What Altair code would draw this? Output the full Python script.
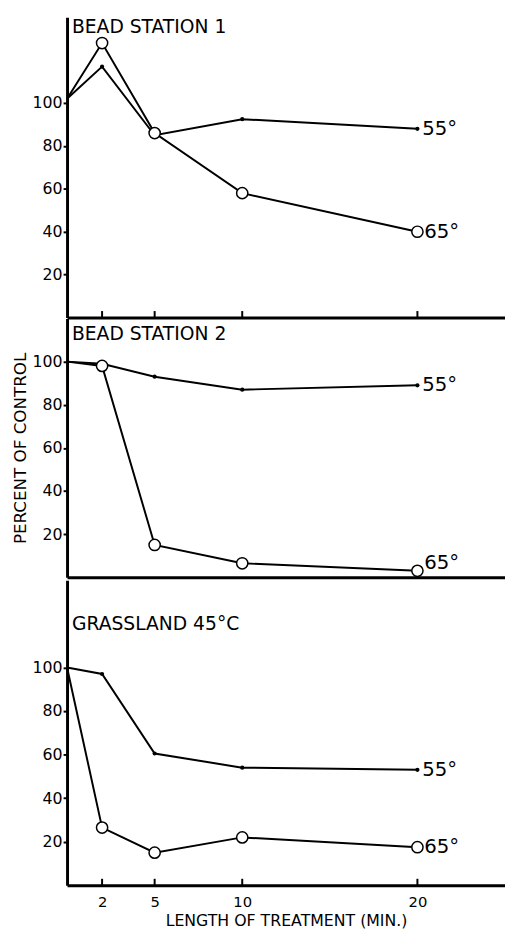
import altair as alt
import pandas as pd

# ---- data ----
times = [0, 2, 5, 10, 20]
bs1_55 = [102, 117, 85, 92.5, 88]
bs1_65 = [102, 128, 86, 58, 40]
bs2_55 = [100, 99, 93, 87, 89]
bs2_65 = [100, 98, 15, 6.5, 3]
gr_55 = [100, 97, 60.5, 54, 53]
gr_65 = [100, 26.5, 15, 22, 17.5]
panel_titles = ["BEAD STATION 1", "BEAD STATION 2", "GRASSLAND 45°C"]
series_labels = ["55°", "65°"]
x_ticks = [2, 5, 10, 20]
y_ticks = [20, 40, 60, 80, 100]

FONT = "DejaVu Sans"
W = 445
XDOM = [0, 25]


def make_df(a, b):
    rows = []
    for t, v in zip(times, a):
        rows.append({"t": t, "v": v, "s": series_labels[0]})
    for t, v in zip(times, b):
        rows.append({"t": t, "v": v, "s": series_labels[1]})
    return pd.DataFrame(rows)


def panel(a, b, title, height, ydom, title_y, ytitle=None, bottom=False,
          inner_ticks=False, label_dy=(0, 0)):
    df = make_df(a, b)
    xscale = alt.Scale(domain=XDOM, nice=False, zero=False)
    yscale = alt.Scale(domain=ydom, nice=False, zero=False)
    if bottom:
        xaxis = alt.Axis(values=x_ticks, ticks=False, labelPadding=10,
                         labelFontSize=15, labelFont=FONT, labelColor="black",
                         domainWidth=3, domainColor="black", grid=False,
                         title="LENGTH OF TREATMENT (MIN.)", titleFont=FONT,
                         titleFontSize=16, titleFontWeight="normal",
                         titlePadding=3, titleColor="black")
    else:
        xaxis = alt.Axis(labels=False, ticks=False, title=None, grid=False,
                         domainWidth=3, domainColor="black")
    yaxis = alt.Axis(values=y_ticks, tickSize=4, tickWidth=2, tickColor="black",
                     labelFontSize=16, labelFont=FONT, labelColor="black",
                     labelPadding=1, domainWidth=3, domainColor="black",
                     grid=False, minExtent=36, maxExtent=36,
                     title=ytitle if ytitle else None,
                     titleFont=FONT, titleFontSize=17, titleFontWeight="normal",
                     titleColor="black", titlePadding=2)
    x = alt.X("t:Q", scale=xscale, axis=xaxis)
    y = alt.Y("v:Q", scale=yscale, axis=yaxis)
    base = alt.Chart(df)
    lines = base.mark_line(color="black", strokeWidth=2).encode(
        x=x, y=y, detail="s:N")
    dots = base.transform_filter(alt.datum.s == series_labels[0]).transform_filter(
        alt.datum.t > 0).mark_point(
        shape="circle", filled=True, color="black", size=18, opacity=1).encode(
        x="t:Q", y="v:Q")
    rings = base.transform_filter(alt.datum.s == series_labels[1]).transform_filter(
        alt.datum.t > 0).mark_point(
        shape="circle", filled=True, fill="white", stroke="black",
        strokeWidth=1.5, size=130, opacity=1).encode(x="t:Q", y="v:Q")
    last = base.transform_filter(alt.datum.t == max(times))
    lab55 = last.transform_filter(alt.datum.s == series_labels[0]).mark_text(
        align="left", baseline="middle", dx=5, dy=label_dy[0], font=FONT,
        fontSize=20, color="black").encode(x="t:Q", y="v:Q", text="s:N")
    lab65 = last.transform_filter(alt.datum.s == series_labels[1]).mark_text(
        align="left", baseline="middle", dx=7, dy=label_dy[1], font=FONT,
        fontSize=20, color="black").encode(x="t:Q", y="v:Q", text="s:N")
    ttl = alt.Chart(pd.DataFrame({"name": [title]})).mark_text(
        align="left", baseline="middle", font=FONT, fontSize=19,
        color="black").encode(x=alt.value(5), y=alt.value(title_y), text="name:N")
    layers = [lines, dots, rings, lab55, lab65, ttl]
    if inner_ticks:
        tdf = pd.DataFrame({"t": x_ticks})
        ticks = alt.Chart(tdf).mark_rule(color="black", strokeWidth=2).encode(
            x="t:Q", y=alt.datum(ydom[0]), y2=alt.datum(ydom[0] + 3))
        layers.insert(0, ticks)
    return alt.layer(*layers).properties(width=W, height=height)


p1 = panel(bs1_55, bs1_65, panel_titles[0], 305, [0, 140], 10, inner_ticks=True)
p2 = panel(bs2_55, bs2_65, panel_titles[1], 263, [0, 120], 16,
           ytitle="PERCENT OF CONTROL", label_dy=(0, -8))
p3 = panel(gr_55, gr_65, panel_titles[2], 310, [0, 140], 45, bottom=True,
           inner_ticks=True)

chart = alt.vconcat(p1, p2, p3, spacing=0).properties(
    padding={"left": 4, "top": 2, "right": 0, "bottom": 0}
).configure_view(stroke=None).configure_axis(labelFontWeight="normal")

chart.save("out.html", embed_options={"renderer": "svg", "actions": False})
